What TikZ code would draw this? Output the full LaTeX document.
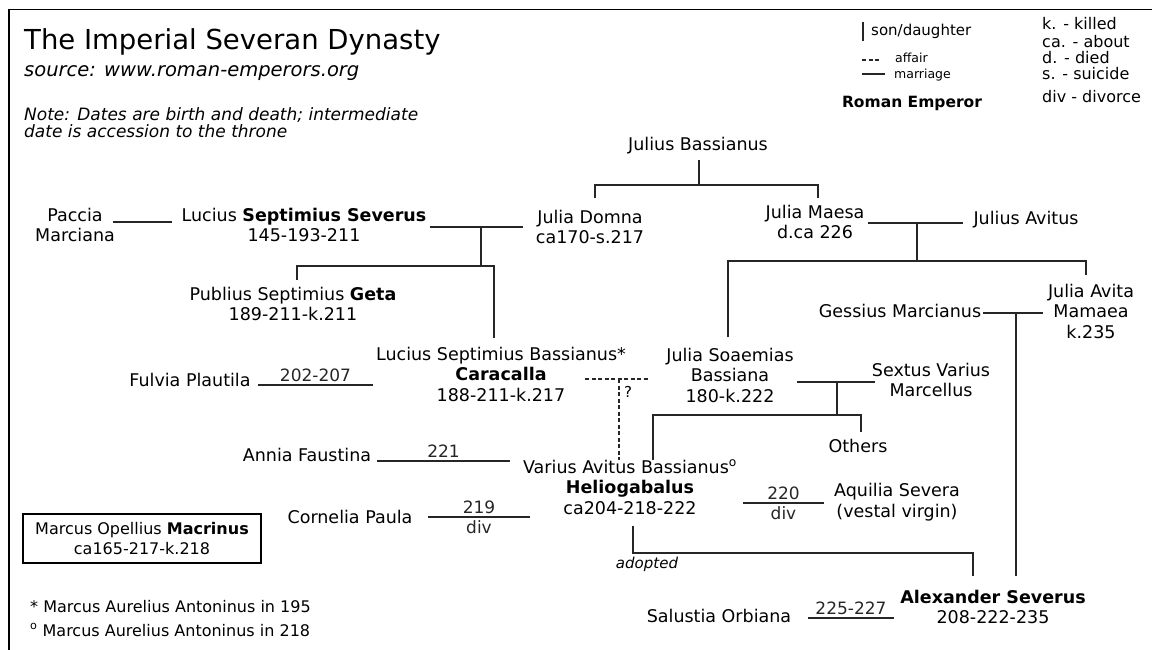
\documentclass[tikz,border=0pt]{standalone}
\usepackage{fontspec}
\setmainfont{DejaVu Sans}
\begin{document}
\begin{tikzpicture}[
    x=1pt, y=-1pt,
    lien/.style={line width=1.2pt, black!85},
    affaire/.style={lien, dashed, dash pattern=on 4pt off 2.5pt},
    pers/.style={align=center, inner sep=0pt, font=\fontsize{17.5}{20.5}\selectfont},
    datum/.style={inner sep=0pt, font=\fontsize{17}{19}\selectfont},
    petit/.style={inner sep=0pt, anchor=west, font=\fontsize{12.5}{15}\selectfont},
    abrev/.style={inner sep=0pt, anchor=west, font=\fontsize{16}{18}\selectfont}
]
\useasboundingbox (0,0) rectangle (1152,650);

% Cadre
\draw[line width=1.5pt] (9,650) -- (9,9.5) -- (1152,9.5);

% Titre et notes
\node[anchor=west, inner sep=0pt, font=\fontsize{27.5}{30}\selectfont] (titre) at (24,42) {The Imperial Severan Dynasty};
\node[anchor=west, inner sep=0pt, font=\fontsize{19.5}{22}\selectfont\itshape] (source) at (24,73) {source: www.roman-emperors.org};
\node[anchor=north west, align=left, inner sep=0pt, font=\fontsize{17}{17.5}\selectfont\itshape] (note) at (24,107) {Note: Dates are birth and death; intermediate\\date is accession to the throne};

% Legende
\coordinate (lgA) at (863,22);
\coordinate (lgB) at (863,41);
\draw[lien] (lgA) -- (lgB);
\node[petit, font=\fontsize{15}{17}\selectfont] (lgfils) at (871,31) {son/daughter};
\coordinate (lgC) at (862,60);
\coordinate (lgD) at (880,60);
\draw[affaire] (lgC) -- (lgD);
\node[petit] (lgaff) at (895,58) {affair};
\coordinate (lgE) at (862,74);
\coordinate (lgF) at (885,74);
\draw[lien] (lgE) -- (lgF);
\node[petit] (lgmar) at (894,75) {marriage};
\node[inner sep=0pt, font=\fontsize{15.5}{17}\selectfont\bfseries] (lgemp) at (912,103) {Roman Emperor};
\node[abrev] (abk) at (1042,24) {k. - killed};
\node[abrev] (abca) at (1042,42) {ca. - about};
\node[abrev] (abd) at (1042,58) {d. - died};
\node[abrev] (abs) at (1042,74) {s. - suicide};
\node[abrev] (abdiv) at (1042,97) {div - divorce};

% Personnes
\node[pers] (jb) at (698,146) {Julius Bassianus};
\node[pers] (domna) at (590,227) {Julia Domna\\ca170-s.217};
\node[pers] (maesa) at (815,222) {Julia Maesa\\d.ca 226};
\node[pers] (avitus) at (1026,220) {Julius Avitus};
\node[pers] (paccia) at (75,225) {Paccia\\Marciana};
\node[pers] (severus) at (304,225) {Lucius \textbf{Septimius Severus}\\145-193-211};
\node[pers] (geta) at (293,304) {Publius Septimius \textbf{Geta}\\189-211-k.211};
\node[pers] (caracalla) at (501,374) {Lucius Septimius Bassianus*\\\textbf{Caracalla}\\188-211-k.217};
\node[pers] (fulvia) at (190,380) {Fulvia Plautila};
\node[pers] (soaemias) at (730,375) {Julia Soaemias\\Bassiana\\180-k.222};
\node[pers] (sextus) at (931,380) {Sextus Varius\\Marcellus};
\node[pers] (others) at (858,446) {Others};
\node[pers] (gessius) at (900,311) {Gessius Marcianus};
\node[pers] (avita) at (1091,311) {Julia Avita\\Mamaea\\k.235};
\node[pers] (helio) at (630,487) {Varius Avitus Bassianus\textsuperscript{o}\\\textbf{Heliogabalus}\\ca204-218-222};
\node[pers] (annia) at (307,455) {Annia Faustina};
\node[pers] (cornelia) at (350,517) {Cornelia Paula};
\node[pers] (aquilia) at (897,502) {Aquilia Severa\\(vestal virgin)};
\node[pers, font=\fontsize{16}{20.5}\selectfont, draw, line width=1.2pt, minimum width=238pt, minimum height=49pt] (macrinus) at (142,538.5) {Marcus Opellius \textbf{Macrinus}\\ca165-217-k.218};
\node[pers] (alexander) at (993,607) {\textbf{Alexander Severus}\\208-222-235};
\node[pers] (salustia) at (719,616) {Salustia Orbiana};

% Julius Bassianus et ses filles
\coordinate (jbA) at (699,160);
\coordinate (jbB) at (699,185);
\coordinate (jbL) at (595,185);
\coordinate (jbR) at (818,185);
\coordinate (jbLd) at (595,198);
\coordinate (jbRd) at (818,198);
\draw[lien] (jbA) -- (jbB);
\draw[lien] (jbLd) -- (jbL) -- (jbR) -- (jbRd);

% Septimius Severus
\coordinate (pcA) at (113,222);
\coordinate (pcB) at (172,222);
\draw[lien] (pcA) -- (pcB);
\coordinate (sdA) at (430,227);
\coordinate (sdB) at (523,227);
\coordinate (sdM) at (481,227);
\coordinate (sdN) at (481,266);
\coordinate (sdL) at (297,266);
\coordinate (sdR) at (494,266);
\coordinate (sdLd) at (297,280);
\coordinate (sdRd) at (494,338);
\draw[lien] (sdA) -- (sdB);
\draw[lien] (sdM) -- (sdN);
\draw[lien] (sdLd) -- (sdL) -- (sdR) -- (sdRd);

% Julia Maesa
\coordinate (maA) at (868,223);
\coordinate (maB) at (963,223);
\coordinate (maM) at (917,223);
\coordinate (maN) at (917,261);
\coordinate (maL) at (728,261);
\coordinate (maR) at (1086,261);
\coordinate (maLd) at (728,337);
\coordinate (maRd) at (1086,275);
\draw[lien] (maA) -- (maB);
\draw[lien] (maM) -- (maN);
\draw[lien] (maLd) -- (maL) -- (maR) -- (maRd);

% Caracalla
\coordinate (fuA) at (258,385);
\coordinate (fuB) at (373,385);
\draw[lien] (fuA) -- node[datum, above=3pt] {202-207} (fuB);
\coordinate (afA) at (585,379);
\coordinate (afB) at (648,379);
\coordinate (afM) at (619,379);
\coordinate (afN) at (619,460);
\draw[affaire] (afA) -- (afB);
\draw[affaire] (afM) -- (afN);
\node[datum, font=\fontsize{15}{17}\selectfont] (quest) at (628,392) {?};

% Julia Soaemias
\coordinate (soA) at (797,382);
\coordinate (soB) at (875,382);
\coordinate (soM) at (837,382);
\coordinate (soN) at (837,415);
\coordinate (soL) at (653,415);
\coordinate (soR) at (861,415);
\coordinate (soLd) at (653,460);
\coordinate (soRd) at (861,432);
\draw[lien] (soA) -- (soB);
\draw[lien] (soM) -- (soN);
\draw[lien] (soLd) -- (soL) -- (soR) -- (soRd);

% Heliogabalus
\coordinate (anA) at (377,461);
\coordinate (anB) at (510,461);
\draw[lien] (anA) -- node[datum, above=3pt] {221} (anB);
\coordinate (coA) at (428,517);
\coordinate (coB) at (530,517);
\draw[lien] (coA) -- node[datum, above=3pt] {219} node[datum, below=3pt] {div} (coB);
\coordinate (aqA) at (743,503);
\coordinate (aqB) at (824,503);
\draw[lien] (aqA) -- node[datum, above=3pt] {220} node[datum, below=3pt] {div} (aqB);
\coordinate (adA) at (633,526);
\coordinate (adB) at (633,553);
\coordinate (adC) at (973,553);
\coordinate (adD) at (973,576);
\draw[lien] (adA) -- (adB) -- (adC) -- (adD);
\node[inner sep=0pt, font=\fontsize{15}{17}\selectfont\itshape] (adopte) at (647,564) {adopted};

% Alexander Severus
\coordinate (geA) at (983,313);
\coordinate (geB) at (1043,313);
\coordinate (geM) at (1016,313);
\coordinate (geN) at (1016,576);
\draw[lien] (geA) -- (geB);
\draw[lien] (geM) -- (geN);
\coordinate (saA) at (808,618);
\coordinate (saB) at (894,618);
\draw[lien] (saA) -- node[datum, above=3pt] {225-227} (saB);

% Notes en bas
\node[anchor=west, inner sep=0pt, font=\fontsize{16}{18}\selectfont] (fnA) at (30,607) {* Marcus Aurelius Antoninus in 195};
\node[anchor=west, inner sep=0pt, font=\fontsize{16}{18}\selectfont] (fnB) at (30,630) {\textsuperscript{o} Marcus Aurelius Antoninus in 218};

\end{tikzpicture}
\end{document}
